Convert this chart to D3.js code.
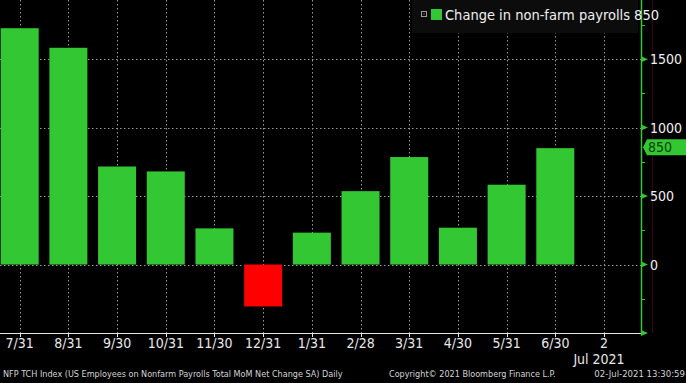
<!DOCTYPE html>
<html>
<head>
<meta charset="utf-8">
<script src="https://cdn.jsdelivr.net/npm/d3@7"></script>
<style>
    html, body { margin: 0; padding: 0; background: #000; }
    svg { display: block; }
    .lbl { font-family: "Liberation Sans Narrow", "DejaVu Sans Condensed", "Liberation Sans", sans-serif; }
</style>
</head>
<body>
<svg id="chart" width="686" height="383"></svg>
<script>
const months = ["7/31", "8/31", "9/30", "10/31", "11/30", "12/31", "1/31", "2/28", "3/31", "4/30", "5/31", "6/30", "2"];
const payrolls = [1726, 1583, 716, 680, 264, -306, 233, 536, 785, 269, 583, 850];
const majorTicks = [-500, 0, 500, 1000, 1500];
const minorTicks = [-250, 250, 750, 1250, 1750];
const lastValue = 850;

const W = 686, H = 383, axisX = 641;
const GREEN = "#33c733", RED = "#ff0000";

const svg = d3.select("#chart");
svg.append("rect").attr("width", W).attr("height", H).attr("fill", "#000");

const x = d3.scalePoint().domain(months).range([19.7, 604]);
const y = d3.scaleLinear().domain([-500, 1932]).range([333, 0]);

// gridlines
let grid = svg.append("g").attr("stroke", "#9a9a9a").attr("stroke-width", 1).attr("stroke-dasharray", "1.5,2.5");
grid.selectAll(".vg").data(months).enter().append("line")
    .attr("x1", d => Math.round(x(d)) + 0.5).attr("x2", d => Math.round(x(d)) + 0.5)
    .attr("y1", 0).attr("y2", 333);
grid.selectAll(".hg").data(majorTicks.filter(d => d > -500)).enter().append("line")
    .attr("x1", 0).attr("x2", axisX)
    .attr("y1", d => Math.round(y(d)) + 0.5).attr("y2", d => Math.round(y(d)) + 0.5);

// faint marker line right of axis
svg.append("line").attr("x1", 652.5).attr("x2", 652.5).attr("y1", 0).attr("y2", 333)
    .attr("stroke", "#3a0505").attr("stroke-width", 1);

// bars
const bw = 38;
svg.append("g").selectAll("rect").data(payrolls).enter().append("rect")
    .attr("x", (d, i) => x(months[i]) - bw / 2)
    .attr("width", bw)
    .attr("y", d => y(Math.max(0, d)))
    .attr("height", d => Math.abs(y(d) - y(0)))
    .attr("fill", d => d < 0 ? RED : GREEN);

// bottom axis
svg.append("line").attr("x1", 0).attr("x2", axisX).attr("y1", 333.5).attr("y2", 333.5)
    .attr("stroke", "#e6e6e6").attr("stroke-width", 1);
let xa = svg.append("g");
xa.selectAll("line").data(months).enter().append("line")
    .attr("x1", d => Math.round(x(d)) + 0.5).attr("x2", d => Math.round(x(d)) + 0.5)
    .attr("y1", 333).attr("y2", 337).attr("stroke", "#e6e6e6");
xa.selectAll("text").data(months).enter().append("text")
    .attr("class", "lbl")
    .attr("x", d => x(d)).attr("y", 348)
    .attr("text-anchor", "middle").attr("fill", "#e8e8e8").attr("font-size", 14)
    .text(d => d);
svg.append("text").attr("class", "lbl")
    .attr("x", x("2") - 5).attr("y", 364)
    .attr("text-anchor", "middle").attr("fill", "#e8e8e8").attr("font-size", 14)
    .text("Jul 2021");

// right axis
svg.append("line").attr("x1", axisX + 0.5).attr("x2", axisX + 0.5).attr("y1", 0).attr("y2", 334)
    .attr("stroke", GREEN).attr("stroke-width", 1.5);
let ya = svg.append("g");
ya.selectAll("path").data(majorTicks).enter().append("path")
    .attr("d", d => "M" + axisX + "," + (y(d) - 3) + "L" + (axisX + 7) + "," + y(d) + "L" + axisX + "," + (y(d) + 3) + "Z")
    .attr("fill", GREEN);
ya.selectAll("line").data(minorTicks).enter().append("line")
    .attr("x1", axisX).attr("x2", axisX + 4)
    .attr("y1", d => Math.round(y(d)) + 0.5).attr("y2", d => Math.round(y(d)) + 0.5)
    .attr("stroke", GREEN);
ya.selectAll("text").data(majorTicks.filter(d => d > -500)).enter().append("text")
    .attr("class", "lbl")
    .attr("x", 650).attr("y", d => y(d) + 5)
    .attr("fill", "#f0f0f0").attr("font-size", 14)
    .text(d => d);

// last value tag
const ty = y(lastValue) - 1;
svg.append("path")
    .attr("d", "M643," + ty + "L647," + (ty - 8) + "L686," + (ty - 8) + "L686," + (ty + 8) + "L647," + (ty + 8) + "Z")
    .attr("fill", GREEN);
svg.append("text").attr("class", "lbl")
    .attr("x", 648).attr("y", ty + 5)
    .attr("fill", "#0b3d0b").attr("font-size", 14)
    .text(lastValue);

// legend
let lg = svg.append("g");
lg.append("rect").attr("x", 412).attr("y", 0).attr("width", 226).attr("height", 33).attr("fill", "#0c0c0c");
lg.append("rect").attr("x", 421.5).attr("y", 11.5).attr("width", 5).attr("height", 5)
    .attr("fill", "none").attr("stroke", "#9a9a9a").attr("stroke-width", 1);
lg.append("rect").attr("x", 423.5).attr("y", 13.5).attr("width", 1).attr("height", 1).attr("fill", "#9a9a9a");
lg.append("rect").attr("x", 431).attr("y", 9).attr("width", 11).attr("height", 11).attr("fill", GREEN);
lg.append("text").attr("class", "lbl")
    .attr("x", 445).attr("y", 20)
    .attr("fill", "#f0f0f0").attr("font-size", 14.5)
    .text("Change in non-farm payrolls " + lastValue);

// footer
let ft = svg.append("g").attr("fill", "#d4d4d4").attr("font-size", 9)
    .attr("font-family", "'DejaVu Sans Condensed', 'Liberation Sans Narrow', sans-serif");
ft.append("text").attr("x", 3).attr("y", 377)
    .text("NFP TCH Index (US Employees on Nonfarm Payrolls Total MoM Net Change SA)  Daily");
ft.append("text").attr("x", 389).attr("y", 377)
    .text("Copyright\u00a9 2021 Bloomberg Finance L.P.");
ft.append("text").attr("x", 685).attr("y", 377).attr("text-anchor", "end")
    .attr("font-size", 9.5)
    .text("02-Jul-2021 13:30:59");
</script>
</body>
</html>
